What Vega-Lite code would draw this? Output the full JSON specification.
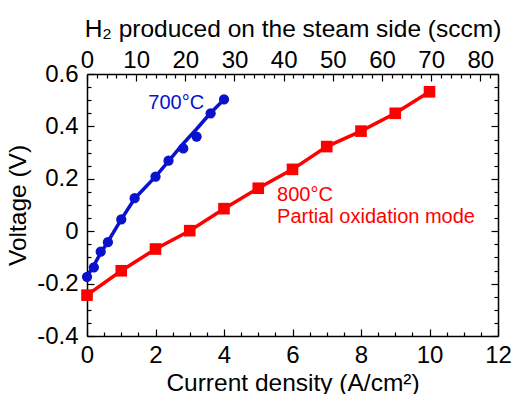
{
  "$schema": "https://vega.github.io/schema/vega-lite/v6.json",
  "width": 411,
  "height": 262,
  "autosize": "none",
  "padding": {"left": 87, "top": 74, "right": 15, "bottom": 58},
  "background": "white",
  "config": {
    "view": {"stroke": null},
    "axis": {
      "grid": false,
      "domainColor": "black",
      "domainWidth": 1.5,
      "tickColor": "black",
      "tickWidth": 1.2,
      "labelFont": "Liberation Sans",
      "labelFontSize": 24,
      "labelColor": "black",
      "labelFlush": false,
      "labelOverlap": false,
      "titleFont": "Liberation Sans",
      "titleFontSize": 24.5,
      "titleFontWeight": "normal",
      "titleColor": "black"
    }
  },
  "datasets": {
    "fit700": [
      {"j": 0, "v": -0.174}, {"j": 0.2, "v": -0.13}, {"j": 0.4, "v": -0.083}, {"j": 0.6, "v": -0.042},
      {"j": 1.0, "v": 0.045}, {"j": 1.4, "v": 0.126}, {"j": 2.0, "v": 0.208}, {"j": 2.4, "v": 0.27},
      {"j": 2.8, "v": 0.333}, {"j": 3.2, "v": 0.39}, {"j": 3.6, "v": 0.45}, {"j": 4.0, "v": 0.503}
    ],
    "pts700": [
      {"j": 0, "v": -0.174}, {"j": 0.2, "v": -0.138}, {"j": 0.4, "v": -0.078}, {"j": 0.61, "v": -0.042},
      {"j": 1.0, "v": 0.045}, {"j": 1.39, "v": 0.126}, {"j": 2.0, "v": 0.208}, {"j": 2.38, "v": 0.269},
      {"j": 2.81, "v": 0.316}, {"j": 3.2, "v": 0.361}, {"j": 3.61, "v": 0.45}, {"j": 4.0, "v": 0.503}
    ],
    "pts800": [
      {"j": 0, "v": -0.244}, {"j": 1, "v": -0.151}, {"j": 2, "v": -0.068}, {"j": 3, "v": 0.002},
      {"j": 4, "v": 0.086}, {"j": 5, "v": 0.164}, {"j": 6, "v": 0.236}, {"j": 7, "v": 0.323},
      {"j": 8, "v": 0.382}, {"j": 9, "v": 0.45}, {"j": 10, "v": 0.532}
    ],
    "labels": [
      {"j": 1.79, "v": 0.465, "t": "700°C", "c": "700"},
      {"j": 5.55, "v": 0.114, "t": "800°C", "c": "800"},
      {"j": 5.55, "v": 0.033, "t": "Partial oxidation mode", "c": "800"}
    ]
  },
  "layer": [
    {
      "data": {"values": []},
      "mark": {"type": "point", "opacity": 0},
      "encoding": {
        "x": {
          "field": "h2", "type": "quantitative",
          "scale": {"domain": [0, 83.6], "nice": false, "zero": false},
          "axis": {
            "orient": "top",
            "title": "H₂ produced on the steam side (sccm)",
            "values": [0,2,4,6,8,10,12,14,16,18,20,22,24,26,28,30,32,34,36,38,40,42,44,46,48,50,52,54,56,58,60,62,64,66,68,70,72,74,76,78,80,82],
            "labelExpr": "datum.value % 10 == 0 ? '' + datum.value : ''",
            "tickSize": {"condition": {"test": "datum.value % 10 == 0", "value": -7}, "value": -4},
            "labelPadding": 9,
            "titlePadding": 4
          }
        },
        "y": {
          "field": "v", "type": "quantitative",
          "scale": {"domain": [-0.4, 0.6], "nice": false, "zero": false},
          "axis": {
            "orient": "right",
            "title": null,
            "values": [-0.4,-0.35,-0.3,-0.25,-0.2,-0.15,-0.1,-0.05,0,0.05,0.1,0.15,0.2,0.25,0.3,0.35,0.4,0.45,0.5,0.55,0.6],
            "labels": false,
            "tickSize": {"condition": {"test": "abs(datum.value*5 - round(datum.value*5)) < 0.001", "value": -7}, "value": -4}
          }
        }
      }
    },
    {
      "data": {"name": "fit700"},
      "mark": {"type": "line", "color": "#0a12cc", "strokeWidth": 3.5},
      "encoding": {
        "x": {
          "field": "j", "type": "quantitative",
          "scale": {"domain": [0, 12], "nice": false, "zero": false},
          "axis": {
            "orient": "bottom",
            "title": "Current density (A/cm²)",
            "values": [0,0.5,1,1.5,2,2.5,3,3.5,4,4.5,5,5.5,6,6.5,7,7.5,8,8.5,9,9.5,10,10.5,11,11.5,12],
            "labelExpr": "datum.value % 2 == 0 ? '' + datum.value : ''",
            "tickSize": {"condition": {"test": "datum.value % 2 == 0", "value": -7}, "value": -4},
            "labelPadding": 14,
            "titlePadding": 1
          }
        },
        "y": {
          "field": "v", "type": "quantitative",
          "scale": {"domain": [-0.4, 0.6], "nice": false, "zero": false},
          "axis": {
            "orient": "left",
            "title": "Voltage (V)",
            "values": [-0.4,-0.35,-0.3,-0.25,-0.2,-0.15,-0.1,-0.05,0,0.05,0.1,0.15,0.2,0.25,0.3,0.35,0.4,0.45,0.5,0.55,0.6],
            "labelExpr": "abs(datum.value*5 - round(datum.value*5)) < 0.001 ? '' + round(datum.value*10)/10 : ''",
            "tickSize": {"condition": {"test": "abs(datum.value*5 - round(datum.value*5)) < 0.001", "value": -7}, "value": -4},
            "labelPadding": 16,
            "titlePadding": 6
          }
        }
      }
    },
    {
      "data": {"name": "pts700"},
      "mark": {"type": "point", "shape": "circle", "filled": true, "opacity": 1, "color": "#0a12cc", "size": 105},
      "encoding": {
        "x": {"field": "j", "type": "quantitative", "scale": {"domain": [0, 12], "nice": false, "zero": false}, "axis": null},
        "y": {"field": "v", "type": "quantitative", "scale": {"domain": [-0.4, 0.6], "nice": false, "zero": false}, "axis": null}
      }
    },
    {
      "data": {"name": "pts800"},
      "mark": {"type": "line", "color": "#ff0000", "strokeWidth": 3.5},
      "encoding": {
        "x": {"field": "j", "type": "quantitative", "scale": {"domain": [0, 12], "nice": false, "zero": false}, "axis": null},
        "y": {"field": "v", "type": "quantitative", "scale": {"domain": [-0.4, 0.6], "nice": false, "zero": false}, "axis": null}
      }
    },
    {
      "data": {"name": "pts800"},
      "mark": {"type": "point", "shape": "square", "filled": true, "opacity": 1, "color": "#ff0000", "size": 135},
      "encoding": {
        "x": {"field": "j", "type": "quantitative", "scale": {"domain": [0, 12], "nice": false, "zero": false}, "axis": null},
        "y": {"field": "v", "type": "quantitative", "scale": {"domain": [-0.4, 0.6], "nice": false, "zero": false}, "axis": null}
      }
    },
    {
      "data": {"name": "labels"},
      "mark": {"type": "text", "align": "left", "baseline": "alphabetic", "font": "Liberation Sans", "fontSize": 20},
      "encoding": {
        "x": {"field": "j", "type": "quantitative", "scale": {"domain": [0, 12], "nice": false, "zero": false}, "axis": null},
        "y": {"field": "v", "type": "quantitative", "scale": {"domain": [-0.4, 0.6], "nice": false, "zero": false}, "axis": null},
        "text": {"field": "t"},
        "color": {"field": "c", "type": "nominal", "scale": {"domain": ["700", "800"], "range": ["#0a12cc", "#ff0000"]}, "legend": null}
      }
    }
  ],
  "resolve": {
    "scale": {"x": "independent"},
    "axis": {"x": "independent", "y": "independent"}
  }
}
